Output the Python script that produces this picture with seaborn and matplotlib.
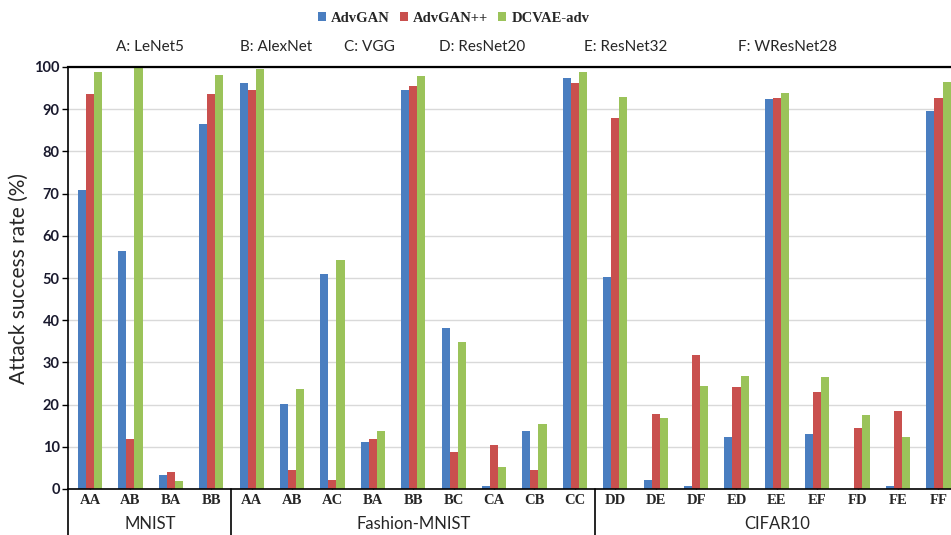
import matplotlib
matplotlib.use("Agg")
import matplotlib.pyplot as plt
from matplotlib.lines import Line2D
from matplotlib.patches import Patch
import pandas as pd
import seaborn as sns

# categories (attack source/target pairs) per dataset
mnist_pairs = ["AA", "AB", "BA", "BB"]
fashion_pairs = ["AA", "AB", "AC", "BA", "BB", "BC", "CA", "CB", "CC"]
cifar_pairs = ["DD", "DE", "DF", "ED", "EE", "EF", "FD", "FE", "FF"]
datasets = ["MNIST", "Fashion-MNIST", "CIFAR10"]
methods = ["AdvGAN", "AdvGAN++", "DCVAE-adv"]
models = ["A: LeNet5", "B: AlexNet", "C: VGG", "D: ResNet20", "E: ResNet32", "F: WResNet28"]

# attack success rate (%)
advgan = [70.9, 56.4, 3.2, 86.5,
          96.2, 20.1, 51.0, 11.1, 94.5, 38.2, 0.7, 13.7, 97.4,
          50.3, 2.1, 0.7, 12.3, 92.4, 13.0, 0.0, 0.7, 89.6]
advganpp = [93.6, 11.8, 4.0, 93.6,
            94.5, 4.5, 2.1, 11.8, 95.5, 8.8, 10.4, 4.5, 96.2,
            87.9, 17.8, 31.7, 24.2, 92.7, 23.0, 14.5, 18.5, 92.7]
dcvae = [98.8, 100.0, 1.8, 98.1,
         99.5, 23.7, 54.3, 13.7, 97.9, 34.8, 5.2, 15.4, 98.8,
         92.9, 16.8, 24.4, 26.8, 93.8, 26.5, 17.5, 12.3, 96.4]

colors = ["#4A7EC0", "#C9504E", "#9BC35A"]

groups = [mnist_pairs, fashion_pairs, cifar_pairs]
keys, labels = [], []
for ds, pairs in zip(datasets, groups):
    for p in pairs:
        keys.append(f"{ds}|{p}")
        labels.append(p)

rows = []
for name, vals in zip(methods, [advgan, advganpp, dcvae]):
    for k, v in zip(keys, vals):
        rows.append({"key": k, "method": name, "rate": v})
df = pd.DataFrame(rows)

sns.set_theme(style="white")
plt.rcParams["font.family"] = ["Lato", "DejaVu Sans"]

fig = plt.figure(figsize=(9.51, 5.35), dpi=100)
ax = fig.add_axes([68 / 951, 1 - 489 / 535, 1 - 68 / 951, (489 - 67) / 535])

sns.barplot(data=df, x="key", y="rate", hue="method", order=keys, hue_order=methods,
            palette=colors, width=0.6, linewidth=0, saturation=1, ax=ax, legend=False)

ax.set_ylim(0, 100)
ax.set_xlim(-0.545, 21.31)
ax.set_yticks(range(0, 101, 10))
ax.set_yticklabels([str(v) for v in range(0, 101, 10)], fontweight="bold",
                   fontsize=10.5, color="#1a1a2e")
ax.yaxis.grid(True, color="#D9D9D9", linewidth=1)
ax.set_axisbelow(True)
ax.tick_params(axis="y", direction="out", length=4, width=1, color="black", left=True, pad=2)
ax.tick_params(axis="x", direction="in", length=4, width=1, color="black", bottom=True)
ax.set_xticks(range(len(keys)))
ax.set_xticklabels(labels, fontsize=10.5, fontweight="bold", family="Liberation Serif")
ax.set_xlabel("")
ax.set_ylabel("Attack success rate (%)", fontsize=15, labelpad=4)

for side in ["left", "bottom"]:
    ax.spines[side].set_color("black")
    ax.spines[side].set_linewidth(1.2)
ax.spines["top"].set_color("black")
ax.spines["top"].set_linewidth(1.6)
ax.spines["right"].set_visible(False)

# second level of the category axis: separators and dataset names
trans = ax.get_xaxis_transform()
bounds = [-0.545, 3.5, 12.5]
for b in bounds:
    ax.add_line(Line2D([b, b], [0, -0.115], transform=trans, color="black",
                       linewidth=1.2, clip_on=False))
centers = [1.5, 8.0, 17.0]
for ds, c in zip(datasets, centers):
    ax.text(c, -0.082, ds, transform=trans, ha="center", va="center", fontsize=12)

# legend at top
handles = [Patch(facecolor=c, edgecolor="none") for c in colors]
fig.legend(handles, methods, loc="center", bbox_to_anchor=(0.477, 0.966), ncol=3,
           frameon=False, handlelength=0.55, handleheight=0.55, handletextpad=0.35,
           columnspacing=0.7, prop={"family": "Liberation Serif", "weight": "bold", "size": 10.5})

# model key line
model_x = [150, 276, 369, 482, 626, 788]
for m, x in zip(models, model_x):
    fig.text(x / 951, 1 - 47 / 535, m, ha="center", va="center", fontsize=11)

fig.savefig("out.png", dpi=100)
